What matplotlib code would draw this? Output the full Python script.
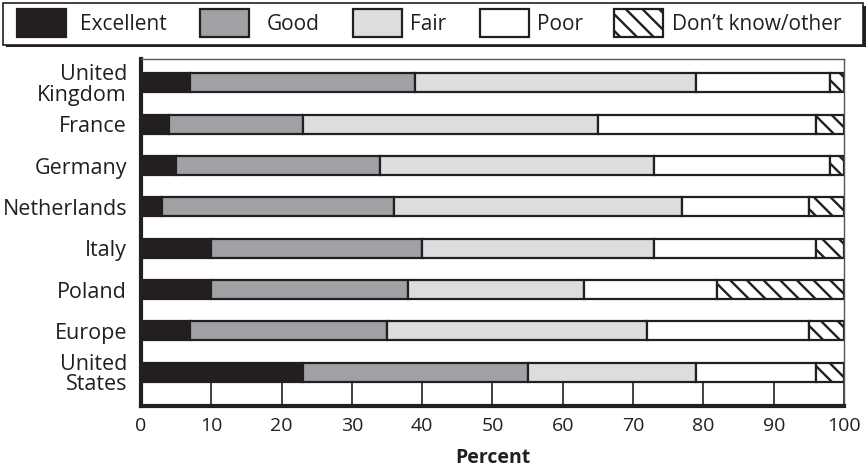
import matplotlib
matplotlib.use("Agg")
import matplotlib.pyplot as plt
from matplotlib.patches import Rectangle
import numpy as np

countries = ["United\nKingdom", "France", "Germany", "Netherlands", "Italy",
             "Poland", "Europe", "United\nStates"]
categories = ["Excellent", "Good", "Fair", "Poor", "Don\u2019t know/other"]
excellent = [7, 4, 5, 3, 10, 10, 7, 23]
good = [32, 19, 29, 33, 30, 28, 28, 32]
fair = [40, 42, 39, 41, 33, 25, 37, 24]
poor = [19, 31, 25, 18, 23, 19, 23, 17]
dont_know = [2, 4, 2, 5, 4, 18, 5, 4]
xticks = [0, 10, 20, 30, 40, 50, 60, 70, 80, 90, 100]

series = [excellent, good, fair, poor, dont_know]
colors = ["#231f20", "#a0a1a4", "#dcdddf", "#ffffff", "#ffffff"]
hatches = [None, None, None, None, "\\\\"]

plt.rcParams['font.family'] = ['Open Sans', 'DejaVu Sans']
plt.rcParams['hatch.linewidth'] = 1.7
plt.rcParams['hatch.color'] = '#231f20'
TXT = "#231f20"

W, H = 868, 466
fig = plt.figure(figsize=(W / 100, H / 100), dpi=100)
ax = fig.add_axes([141 / W, 60 / H, 703 / W, 347 / H])

ypos = np.arange(len(countries))[::-1]
left = np.zeros(len(countries))
for vals, col, hat in zip(series, colors, hatches):
    ax.barh(ypos, vals, left=left, height=0.46, color=col, edgecolor="#231f20",
            linewidth=1.6, hatch=hat)
    left += np.array(vals)

ax.set_xlim(0, 100)
ax.set_ylim(-0.82, 7.58)
ax.set_yticks(ypos)
ax.set_yticklabels(countries, fontsize=15.5, linespacing=0.95, ha="right", color=TXT)
ax.tick_params(axis="y", length=0, pad=10)
ax.set_xticks(xticks)
ax.set_xticklabels([str(t) for t in xticks], fontsize=14, color=TXT)
ax.tick_params(axis="x", direction="in", length=18, width=1.2, color="#231f20", pad=8)
ax.set_xlabel("Percent", fontsize=14, fontweight="bold", labelpad=9, color=TXT)

for s in ["left", "bottom"]:
    ax.spines[s].set_linewidth(3)
    ax.spines[s].set_color("#231f20")
for s in ["top", "right"]:
    ax.spines[s].set_linewidth(1.0)
    ax.spines[s].set_color("#555555")

# legend box (manual)
def fx(px):
    return px / W

def fy(py):
    return 1 - py / H

fig.add_artist(Rectangle((fx(6), fy(47)), fx(866) - fx(6), fy(6) - fy(47),
                         transform=fig.transFigure, facecolor="#231f20",
                         edgecolor="none"))
fig.add_artist(Rectangle((fx(3), fy(45)), fx(863) - fx(3), fy(3) - fy(45),
                         transform=fig.transFigure, facecolor="white",
                         edgecolor="#231f20", linewidth=1.2))
patch_x = [17, 200, 353, 480, 614]
text_x = [80, 267, 410, 537, 672]
for px_, tx, col, hat, lab in zip(patch_x, text_x, colors, hatches, categories):
    fig.add_artist(Rectangle((fx(px_), fy(37)), fx(px_ + 49) - fx(px_), fy(9) - fy(37),
                             transform=fig.transFigure, facecolor=col,
                             edgecolor="#231f20", linewidth=1.6, hatch=hat))
    fig.text(fx(tx), fy(24), lab, fontsize=15, va="center", ha="left", color=TXT)

fig.savefig("out.png", dpi=100)
